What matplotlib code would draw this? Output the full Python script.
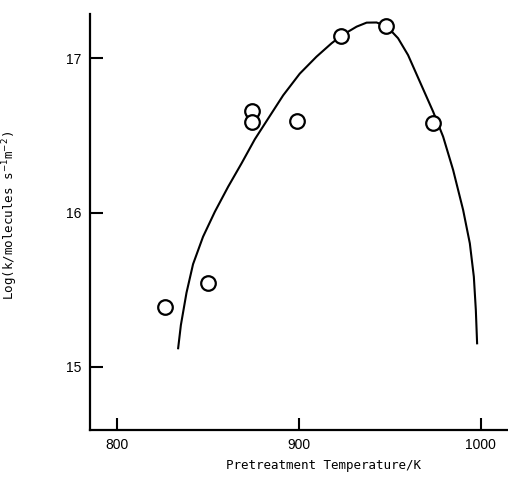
import numpy as np
import matplotlib.pyplot as plt

# Measured rates vs pretreatment temperature
temp_k = [826, 850, 874, 874, 899, 923, 948, 974]
log_k = [15.39, 15.54, 16.66, 16.585, 16.595, 17.145, 17.21, 16.58]

# Hand-drawn trend curve through the data
curve_t = [833.5, 835.0, 838.1, 841.7, 847.2, 853.7, 861.0, 868.4, 875.7, 883.9,
           891.3, 900.4, 909.6, 917.9, 923.4, 931.7, 937.2, 942.7, 948.5, 954.5,
           960.0, 966.5, 973.8, 979.3, 984.8, 990.3, 994.0, 996.2, 997.3, 998.0]
curve_y = [15.12, 15.27, 15.48, 15.665, 15.843, 16.005, 16.167, 16.319, 16.475, 16.625,
           16.76, 16.90, 17.010, 17.097, 17.147, 17.205, 17.231, 17.232, 17.205, 17.130,
           17.021, 16.848, 16.654, 16.492, 16.276, 16.017, 15.800, 15.584, 15.368, 15.152]

fig = plt.figure(figsize=(5.08, 4.93), dpi=100)
ax = fig.add_axes([90 / 508, 1 - 430 / 493, 1 - 90 / 508, (430 - 14) / 493])

ax.plot(curve_t, curve_y, color='black', lw=1.5, zorder=2)
ax.plot(temp_k, log_k, 'o', ms=10.5, mfc='white', mec='black', mew=1.6, zorder=3)

ax.set_xlim(785, 1015)
ax.set_ylim(14.59, 17.287)
ax.set_xticks([800, 900, 1000])
ax.set_yticks([15, 16, 17])

for s in ['top', 'right']:
    ax.spines[s].set_visible(False)
for s in ['left', 'bottom']:
    ax.spines[s].set_linewidth(1.6)

ax.tick_params(direction='in', length=9, width=1.5, labelsize=10, pad=6)
for lab in ax.get_xticklabels() + ax.get_yticklabels():
    lab.set_family(['Liberation Sans Narrow', 'Liberation Sans', 'DejaVu Sans'])

ax.set_xlabel('Pretreatment Temperature/K', family='DejaVu Sans Mono', fontsize=9)
ax.set_ylabel(r'Log(k/molecules s$^{-1}$m$^{-2}$)', family='DejaVu Sans Mono', fontsize=9)

# place the axis titles
ax.xaxis.set_label_coords((324 - 90) / 418, -(459 - 430) / 416)
ax.yaxis.set_label_coords(-(90 - 20) / 418, (430 - 215) / 416)

fig.savefig('out.png', dpi=100)
